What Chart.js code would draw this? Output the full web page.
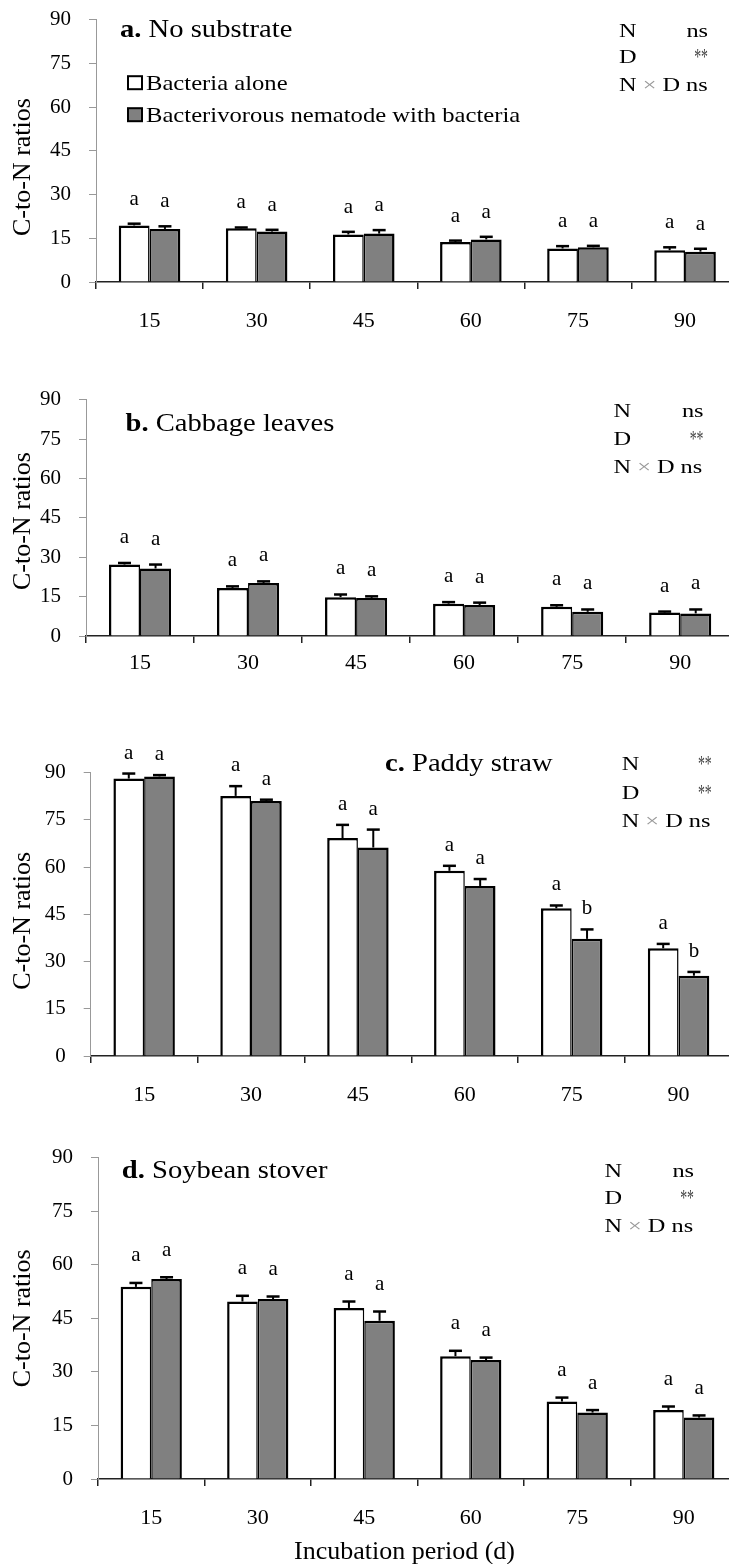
<!DOCTYPE html>
<html><head><meta charset="utf-8">
<script src="https://cdn.jsdelivr.net/npm/chart.js@4.4.1/dist/chart.umd.min.js"></script>
<style>
html,body{margin:0;padding:0;background:#fff;width:729px;height:1564px;overflow:hidden;position:relative}
canvas{position:absolute;left:0}
</style></head><body>
<canvas id="ca"></canvas><canvas id="cb"></canvas><canvas id="cc"></canvas><canvas id="cd"></canvas>
<script>
// ---- data ----
const days = ['15','30','45','60','75','90'];
const seriesNames = ['Bacteria alone','Bacterivorous nematode with bacteria'];

const aWhite = [19.4, 18.4, 16.3, 13.7, 11.5, 10.9];
const aWhiteErr = [0.6, 0.3, 0.9, 0.5, 0.8, 1.0];
const aGray = [18.2, 17.3, 16.6, 14.6, 11.9, 10.4];
const aGrayErr = [0.9, 0.6, 1.2, 0.9, 0.5, 1.0];

const bWhite = [27.2, 18.3, 14.8, 12.3, 11.1, 8.9];
const bWhiteErr = [0.6, 0.6, 1.0, 0.6, 0.6, 0.4];
const bGray = [25.7, 20.2, 14.5, 11.8, 9.2, 8.6];
const bGrayErr = [1.5, 0.6, 0.6, 0.9, 0.9, 1.5];

const cWhite = [88.1, 82.6, 69.2, 58.8, 46.9, 34.2];
const cWhiteErr = [1.6, 3.1, 4.2, 1.6, 0.9, 1.4];
const cGray = [88.8, 81.0, 66.2, 54.0, 37.2, 25.5];
const cGrayErr = [0.4, 0.4, 5.7, 2.2, 3.0, 1.2];

const dWhite = [53.8, 49.7, 47.9, 34.4, 21.7, 19.3];
const dWhiteErr = [1.1, 1.6, 1.8, 1.5, 1.1, 1.0];
const dGray = [56.0, 50.4, 44.3, 33.3, 18.6, 17.2];
const dGrayErr = [0.5, 0.7, 2.6, 0.7, 0.7, 0.6];

const allA = ['a','a','a','a','a','a'];
const cGraySig = ['a','a','a','a','b','b'];

const yTicks = [0, 15, 30, 45, 60, 75, 90];
const panelTitles = [['a.',' No substrate'],['b.',' Cabbage leaves'],['c.',' Paddy straw'],['d.',' Soybean stover']];
const statN = ['ns','ns','**','ns'];
const statD = ['**','**','**','**'];
const statND = ['ns','ns','ns','ns'];
const yTitle = 'C-to-N ratios';
const xTitle = 'Incubation period (d)';

// ---- layout / style ----
const FONT = "'Liberation Serif','Times New Roman',serif";
const CW = 760, PAD_TOP = 30;

const panels = [
  {id:'ca', w:aWhite, we:aWhiteErr, g:aGray, ge:aGrayErr, ws:allA, gs:allA, k:0,
   L:{y90:19.3, y0:282.7, axisX:96, right:738.6, xPad:19, xH:60, ySp:5, gap:19,
      tx:120, ty:37, sx:619, sy:[37.3,63.3,91.7], sr:708}, legend:true},
  {id:'cb', w:bWhite, we:bWhiteErr, g:bGray, ge:bGrayErr, ws:allA, gs:allA, k:1,
   L:{y90:399.3, y0:636.7, axisX:86, right:734.2, xPad:7, xH:60, ySp:1, gap:20,
      tx:125.5, ty:431.7, sx:613.5, sy:[417.5,445,473.3], sr:703.5}},
  {id:'cc', w:cWhite, we:cWhiteErr, g:cGray, ge:cGrayErr, ws:allA, gs:cGraySig, k:2,
   L:{y90:771.7, y0:1055.7, axisX:90.7, right:732, xPad:19, xH:60, ySp:2, gap:15,
      tx:385, ty:770.7, sx:621.7, sy:[770,798.3,826.7], sr:711.7}},
  {id:'cd', w:dWhite, we:dWhiteErr, g:dGray, ge:dGrayErr, ws:allA, gs:allA, k:3,
   L:{y90:1156.7, y0:1478.3, axisX:98, right:737, xPad:19.5, xH:95, ySp:0, gap:21.5,
      tx:121.8, ty:1177.3, sx:604.4, sy:[1176.7,1203.3,1231.7], sr:694}, xtitle:true}
];

function txt(ctx, s, x, y, font, sx, color, align){
  ctx.save();
  ctx.font = font; ctx.fillStyle = color; ctx.textBaseline = 'alphabetic'; ctx.textAlign = 'left';
  const w = ctx.measureText(s).width * sx;
  const x0 = align === 'right' ? x - w : x;
  ctx.translate(x0, y); ctx.scale(sx, 1); ctx.fillText(s, 0, 0);
  ctx.restore();
  return w;
}

function makeAnnot(p){
  return {
    id:'annot'+p.k,
    afterDatasetsDraw(chart){
      const ctx = chart.ctx, ys = chart.scales.y;
      [[p.w,p.we,p.ws],[p.g,p.ge,p.gs]].forEach((set, di) => {
        const meta = chart.getDatasetMeta(di);
        meta.data.forEach((bar, j) => {
          const v = set[0][j], e = set[1][j];
          const yv = ys.getPixelForValue(v), ye = ys.getPixelForValue(v + e);
          ctx.save();
          ctx.strokeStyle = '#000'; ctx.lineWidth = 2;
          ctx.beginPath(); ctx.moveTo(bar.x, yv); ctx.lineTo(bar.x, ye); ctx.stroke();
          ctx.lineWidth = 2.5;
          ctx.beginPath(); ctx.moveTo(bar.x - 6.5, ye); ctx.lineTo(bar.x + 6.5, ye); ctx.stroke();
          ctx.font = '21px ' + FONT; ctx.fillStyle = '#000';
          ctx.textAlign = 'center'; ctx.textBaseline = 'alphabetic';
          ctx.fillText(set[2][j], bar.x, ye - p.L.gap);
          ctx.restore();
        });
      });
    },
    afterDraw(chart){
      const ctx = chart.ctx, L = p.L, off = L.y90 - PAD_TOP;
      // panel heading
      const hs = 1.1;
      const wb = txt(ctx, panelTitles[p.k][0], L.tx, L.ty - off, 'bold 26px ' + FONT, hs, '#000');
      txt(ctx, panelTitles[p.k][1], L.tx + wb, L.ty - off, '26px ' + FONT, hs, '#000');
      // stats
      const sf = '19px ' + FONT, ss = 1.28;
      const right = (s, y) => {
        if (s === '**') txt(ctx, s, L.sr, y + 1, '23px ' + FONT, 0.6, '#444', 'right');
        else txt(ctx, s, L.sr, y, sf, ss, '#000', 'right');
      };
      txt(ctx, 'N', L.sx, L.sy[0] - off, sf, ss, '#000'); right(statN[p.k], L.sy[0] - off);
      txt(ctx, 'D', L.sx, L.sy[1] - off, sf, ss, '#000'); right(statD[p.k], L.sy[1] - off);
      let x = L.sx;
      x += txt(ctx, 'N', x, L.sy[2] - off, sf, ss, '#000');
      x += txt(ctx, ' \u00d7 ', x, L.sy[2] - off, sf, ss, '#999');
      x += txt(ctx, 'D ', x, L.sy[2] - off, sf, ss, '#000');
      txt(ctx, statND[p.k], x, L.sy[2] - off, sf, ss, '#000');
      // legend
      if (p.legend) {
        const items = [[76.5, 90.7, '#fff'], [108.5, 122.7, '#808080']];
        items.forEach((it, i) => {
          ctx.save();
          ctx.fillStyle = it[2]; ctx.strokeStyle = '#000'; ctx.lineWidth = 2;
          ctx.fillRect(128, it[0] - off, 14, 13);
          ctx.strokeRect(128, it[0] - off, 14, 13);
          ctx.restore();
          txt(ctx, seriesNames[i], 146, it[1] - off, '22px ' + FONT, 1.12, '#000');
        });
      }
    }
  };
}

panels.forEach(p => {
  const L = p.L;
  const cv = document.getElementById(p.id);
  const top = L.y90 - PAD_TOP;
  const H = Math.round(L.y0 - top + L.xH);
  cv.width = CW; cv.height = H;
  cv.style.top = top + 'px';
  cv.style.width = CW + 'px'; cv.style.height = H + 'px';
  const xScale = {
    z: 1,
    grid: {display:true, drawOnChartArea:false, drawTicks:true, tickLength:7, color:'#222', lineWidth:1.5, offset:true},
    border: {display:true, color:'#222', width:1.5},
    ticks: {font:{family:FONT, size:22}, color:'#000', padding:L.xPad, maxRotation:0, autoSkip:false},
    afterFit: s => { s.height = L.xH; }
  };
  if (p.xtitle) {
    xScale.title = {display:true, text:xTitle + '    ', font:{family:FONT, size:26}, color:'#000', padding:{top:0, bottom:6}};
  }
  new Chart(cv, {
    type:'bar',
    data:{
      labels: days,
      datasets:[
        {label:seriesNames[0], data:p.w, backgroundColor:'#ffffff', borderColor:'#000',
         borderWidth:{top:2.5, left:2.5, right:1.5, bottom:0}, categoryPercentage:0.575, barPercentage:1.0},
        {label:seriesNames[1], data:p.g, backgroundColor:'#808080', borderColor:'#000',
         borderWidth:{top:2.5, left:1.5, right:2.5, bottom:0}, categoryPercentage:0.575, barPercentage:1.0}
      ]
    },
    options:{
      responsive:false, animation:false, devicePixelRatio:1,
      layout:{padding:{top:PAD_TOP, right:CW - L.right, bottom:0, left:0}},
      plugins:{legend:{display:false}, tooltip:{enabled:false}},
      scales:{
        x: xScale,
        y: {
          min:0, max:90,
          afterBuildTicks: s => { s.ticks = yTicks.map(v => ({value:v})); },
          ticks:{font:{family:FONT, size:21}, color:'#000', padding:18},
          grid:{drawOnChartArea:false, drawTicks:true, tickLength:7, color:'#999', lineWidth:1},
          border:{display:true, color:'#999', width:1},
          title:{display:true, text:yTitle + ' '.repeat(L.ySp), font:{family:FONT, size:26}, color:'#000', padding:{top:7.4, bottom:0}},
          afterFit: s => { s.width = L.axisX; }
        }
      }
    },
    plugins:[makeAnnot(p)]
  });
});
</script>
</body></html>
